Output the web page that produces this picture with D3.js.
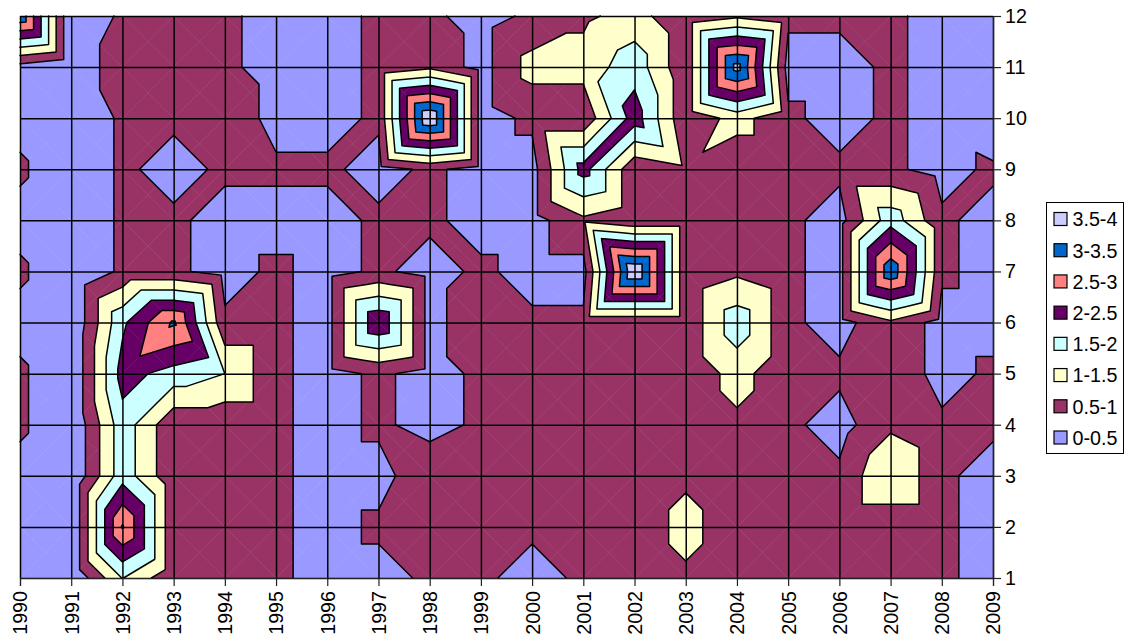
<!DOCTYPE html>
<html>
<head>
<meta charset="utf-8">
<style>
  html, body { margin: 0; background: #fff; }
  svg { display: block; }
  text { font-family: 'Liberation Sans', Arial, sans-serif; fill: #000; }
</style>
<script src="https://cdn.jsdelivr.net/npm/d3@7"></script>
</head>
<body>
<svg width="1127" height="640"></svg>
<script>
'use strict'

const years = [1990, 1991, 1992, 1993, 1994, 1995, 1996, 1997, 1998, 1999, 2000, 2001, 2002, 2003, 2004, 2005, 2006, 2007, 2008, 2009]
const rowLabels = [1, 2, 3, 4, 5, 6, 7, 8, 9, 10, 11, 12]

const row1 = [0.3, 0, 1.52, 0.6, 0.6, 0.6, 0.3, 0.3, 0.6, 0.6, 0.3, 0.6, 0.6, 0.9, 0.6, 0.6, 0.6, 0.6, 0.6, 0.3]
const row2 = [0.3, 0, 3.05, 0.6, 0.6, 0.6, 0.3, 0.6, 0.6, 0.6, 0.6, 0.6, 0.6, 1.2, 0.6, 0.6, 0.6, 0.6, 0.6, 0.3]
const row3 = [0.3, 0, 1.8, 0.6, 0.6, 0.6, 0.3, 0.3, 0.9, 0.6, 0.6, 0.6, 0.6, 0.9, 0.6, 0.6, 0.6, 1.5, 0.6, 0.3]
const row4 = [0.6, 0, 1.8, 0.6, 0.6, 0.6, 0.3, 0.6, 0.3, 0.6, 0.6, 0.6, 0.6, 0.6, 0.9, 0.6, 0.3, 0.9, 0.6, 0.6]
const row5 = [0.6, 0, 2.2, 1.8, 1.5, 0.6, 0.3, 0.6, 0.3, 0.6, 0.6, 0.6, 0.6, 0.6, 1.2, 0.6, 0.6, 0.9, 0.3, 0.6]
const row6 = [0.3, 0, 1.9, 3.08, 0.6, 0.6, 0.3, 2.45, 0.3, 0.9, 0.6, 0.6, 0.6, 0.6, 1.8, 0.6, 0.3, 0.9, 0.3, 0.3]
const row7 = [0.6, 0, 0.6, 0.6, 0.3, 0.6, 0.3, 0.6, 0.3, 0.6, 0.3, 0.3, 4.0, 0.6, 0.9, 0.6, 0.3, 3.4, 0.6, 0.3]
const row8 = [0.3, 0, 0.6, 0.6, 0.3, 0.3, 0.3, 0.6, 0.6, 0.3, 0.3, 0.9, 0.6, 0.6, 0.6, 0.6, 0.3, 1.8, 0.6, 0.3]
const row9 = [0.6, 0, 0.6, 0.3, 0.6, 0.6, 0.6, 0.3, 0.6, 0.3, 0.3, 2.2, 0.6, 0.9, 0.6, 0.6, 0.6, 0.6, 0.3, 0.6]
const row10 = [0.3, 0, 0.6, 0.6, 0.9, 0.3, 0.3, 0.6, 4.0, 0.3, 0.6, 0.6, 2.25, 0.6, 1.2, 0.6, 0.3, 0.6, 0.3, 0]
const row11 = [0.3, 0, 0.9, 0.6, 0.6, 0.3, 0.3, 0.6, 0.9, 0.3, 1.2, 1.2, 1.8, 0.6, 3.7, 0.3, 0.3, 0.6, 0.3, 0.3]
const row12 = [3.4, 0, 0.6, 0.6, 0.6, 0.3, 0.3, 0.6, 0.6, 0.3, 0.6, 0.9, 1.2, 0.6, 0.9, 0.6, 0.6, 0.6, 0.3, 0.3]
const rows = [row1, row2, row3, row4, row5, row6, row7, row8, row9, row10, row11, row12]

const bandLabels = ['0-0.5', '0.5-1', '1-1.5', '1.5-2', '2-2.5', '2.5-3', '3-3.5', '3.5-4']
const bandLows = [0, 0.5, 1, 1.5, 2, 2.5, 3, 3.5]
const bandColors = ['#9999ff', '#993366', '#ffffcc', '#ccffff', '#660066', '#ff8080', '#0066cc', '#ccccff']

const svg = d3.select('body svg')

const xScale = d3.scaleLinear().domain(d3.extent(years)).range([20, 993])
const yScale = d3.scaleLinear().domain(d3.extent(rowLabels)).range([578, 16])

// every cell is cut in 4 triangles round its centre, as Excel does it
const triangles = []
rows.slice(0, -1).forEach((row, r) => {
  years.slice(0, -1).forEach((year, c) => {
    const a = [year, rowLabels[r], row[c]]
    const b = [year + 1, rowLabels[r], row[c + 1]]
    const d = [year + 1, rowLabels[r] + 1, rows[r + 1][c + 1]]
    const e = [year, rowLabels[r] + 1, rows[r + 1][c]]
    const mid = [year + 0.5, rowLabels[r] + 0.5, Math.max((a[2] + d[2]) / 2, (b[2] + e[2]) / 2)]
    triangles.push([a, b, mid], [b, d, mid], [d, e, mid], [e, a, mid])
  })
})

const crossing = (p, q, level) => {
  const t = (level - p[2]) / (q[2] - p[2])
  return [p[0] + (q[0] - p[0]) * t, p[1] + (q[1] - p[1]) * t, level]
}

// keep the part of a polygon above (sign 1) or below (sign -1) a level
const clip = (poly, level, sign) => {
  const out = []
  poly.forEach((p, i) => {
    const q = poly[(i + 1) % poly.length]
    const pIn = (p[2] - level) * sign >= 0
    const qIn = (q[2] - level) * sign >= 0
    if (pIn) out.push(p)
    if (pIn !== qIn) out.push(crossing(p, q, level))
  })
  return out
}

const line = d3.line().x((d) => xScale(d[0])).y((d) => yScale(d[1]))

// one path per piece, the thin seams between them show like in the original
const pieces = []
bandLows.forEach((low, i) => {
  const high = bandLows[i + 1]
  triangles.forEach((tri) => {
    let poly = clip(tri, low, 1)
    if (high !== undefined && poly.length) poly = clip(poly, high, -1)
    if (poly.length > 2) pieces.push({ band: i, d: line(poly) + 'Z' })
  })
})
svg.append('g').classed('fills', true)
  .selectAll('path')
  .data(pieces)
  .enter()
  .append('path')
  .attr('d', (d) => d.d)
  .attr('fill', (d) => bandColors[d.band])

// same bands in one path each, half see-through, so the seams stay faint
svg.append('g').classed('bands', true)
  .attr('opacity', 0.65)
  .selectAll('path')
  .data(bandLows)
  .enter()
  .append('path')
  .attr('d', (d, i) => pieces.filter((p) => p.band === i).map((p) => p.d).join(''))
  .attr('fill', (d, i) => bandColors[i])

const contourG = svg.append('g').classed('contours', true)
bandLows.slice(1).forEach((level) => {
  const segments = []
  triangles.forEach((tri) => {
    const pts = []
    tri.forEach((p, i) => {
      const q = tri[(i + 1) % 3]
      if ((p[2] >= level) !== (q[2] >= level)) pts.push(crossing(p, q, level))
    })
    if (pts.length === 2) segments.push(line(pts))
  })
  contourG.append('path')
    .attr('d', segments.join(''))
    .attr('fill', 'none')
    .attr('stroke', '#000')
    .attr('stroke-width', 1.5)
    .attr('stroke-linecap', 'round')
})

// grid lines
const gridX = d3.axisBottom(xScale).tickValues(years).tickSize(yScale(1) - yScale(12)).tickFormat('')
svg.append('g').classed('gridX', true).attr('transform', `translate(0, ${yScale(12)})`).call(gridX)
const gridY = d3.axisRight(yScale).tickValues(rowLabels).tickSize(xScale(2009) - xScale(1990)).tickFormat('')
svg.append('g').classed('gridY', true).attr('transform', `translate(${xScale(1990)}, 0)`).call(gridY)
svg.selectAll('g.gridX path.domain, g.gridY path.domain').remove()
svg.selectAll('g.gridX line, g.gridY line').attr('stroke', '#000').attr('stroke-width', 1.5)

// axes
const xAxis = d3.axisBottom(xScale).tickValues(years).tickFormat(d3.format('d')).tickSize(8)
const xG = svg.append('g').classed('xAxis', true).attr('transform', `translate(0, ${yScale(1)})`).call(xAxis)
xG.selectAll('text')
  .attr('transform', 'rotate(-90)')
  .attr('x', -13)
  .attr('y', 0)
  .attr('dy', '0.35em')
  .attr('text-anchor', 'end')
  .style('font-size', '19.7px')

const yAxis = d3.axisRight(yScale).tickValues(rowLabels).tickSize(8).tickPadding(4)
const yG = svg.append('g').classed('yAxis', true).attr('transform', `translate(${xScale(2009)}, 0)`).call(yAxis)
yG.selectAll('text').style('font-size', '19.7px')
svg.selectAll('g.xAxis line, g.yAxis line, g.xAxis path.domain, g.yAxis path.domain').attr('stroke', '#222').attr('stroke-width', 1.2)
svg.selectAll('g.xAxis, g.yAxis').attr('font-family', null).attr('font-size', null)

// legend, highest band on top
const legendG = svg.append('g').classed('legend', true).attr('transform', 'translate(1046.5, 202.5)')
legendG.append('rect')
  .attr('width', 77)
  .attr('height', 251)
  .attr('fill', '#fff')
  .attr('stroke', '#000')
  .attr('stroke-width', 1)
const legendY = d3.scalePoint().domain(d3.reverse(bandLabels)).range([17, 235.5])
const entries = legendG.selectAll('g.entry')
  .data(bandLabels)
  .enter()
  .append('g').classed('entry', true)
  .attr('transform', (d) => `translate(7.5, ${legendY(d)})`)
entries.append('rect')
  .attr('y', -7)
  .attr('width', 13)
  .attr('height', 13)
  .attr('fill', (d, i) => bandColors[i])
  .attr('stroke', '#000')
  .attr('stroke-width', 1.2)
entries.append('text')
  .attr('x', 18.5)
  .attr('dy', '0.35em')
  .style('font-size', '19.7px')
  .text((d) => d)
</script>
</body>
</html>
